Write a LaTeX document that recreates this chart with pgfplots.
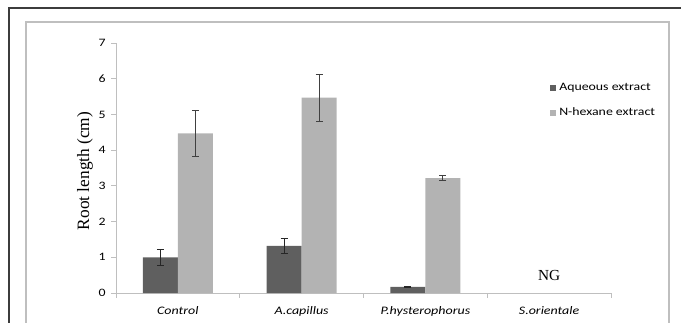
\documentclass[border=0pt]{standalone}
\usepackage{pgfplots}
\pgfplotsset{compat=1.18}
\usepackage{fontspec}
\newfontfamily\calibri{Carlito}
\newfontfamily\tnr{Liberation Serif}
\definecolor{darkbar}{HTML}{5F5F5F}
\definecolor{lightbar}{HTML}{B3B3B3}
\definecolor{axisgray}{HTML}{BFBFBF}
\definecolor{framedark}{HTML}{3C3C3C}
\begin{document}
\begin{tikzpicture}
\useasboundingbox (0pt,0pt) rectangle (510.75pt,241.5pt);
\clip (0pt,0pt) rectangle (510.75pt,241.5pt);
\draw[line width=1.1pt, framedark] (6.75pt,-10pt) -- (6.75pt,235.5pt) -- (520pt,235.5pt);
\draw[line width=0.8pt, axisgray] (19.5pt,-10pt) -- (19.5pt,225pt) -- (501.75pt,225pt) -- (501.75pt,-10pt);
\begin{axis}[
  at={(87pt,21.75pt)}, anchor=south west, scale only axis,
  width=371.25pt, height=187.5pt,
  xmin=-0.5, xmax=3.5, ymin=0, ymax=7,
  axis x line*=bottom, axis y line*=left,
  axis line style={axisgray, line width=0.6pt, -},
  tick style={axisgray, line width=0.6pt},
  tick align=outside, major tick length=3.5pt,
  ytick={0,...,7},
  xtick={-0.5,0.5,1.5,2.5,3.5}, xticklabels={},
  extra x ticks={0,1,2,3},
  extra x tick labels={Control,A.capillus,P.hysterophorus,S.orientale},
  extra x tick style={major tick length=0pt, tick style={draw=none},
     xticklabel style={font=\calibri\itshape\fontsize{8.6}{10}\selectfont, yshift=-6.5pt}},
  ticklabel style={font=\calibri\fontsize{8.5}{10}\selectfont, xscale=1.22},
  /pgf/number format/assume math mode=true,
  ybar, bar width=0.283,
  enlargelimits=false,
  clip=false,
  legend style={draw=none, fill=none, at={(0.869,0.862)}, anchor=north west,
     font=\calibri\fontsize{8.5}{10}\selectfont, row sep=7.6pt,
     nodes={xscale=1.22}},
  legend cell align=left,
  legend image code/.code={\fill[#1] (0pt,-2.1pt) rectangle (4.2pt,2.1pt);},
]
\addplot[fill=darkbar, draw=none, bar shift=-0.1415,
  error bars/.cd, y dir=both, y explicit,
  error bar style={black!85, line width=0.6pt},
  error mark options={rotate=90, black!85, mark size=2.6pt, line width=0.6pt}]
  coordinates {(0,1.00) +- (0,0.22) (1,1.32) +- (0,0.21) (2,0.17) +- (0,0.01)};
\addlegendentry{Aqueous extract}
\addplot[fill=lightbar, draw=none, bar shift=0.1415,
  error bars/.cd, y dir=both, y explicit,
  error bar style={black!75, line width=0.6pt},
  error mark options={rotate=90, black!75, mark size=2.6pt, line width=0.6pt}]
  coordinates {(0,4.47) +- (0,0.65) (1,5.47) +- (0,0.66) (2,3.22) +- (0,0.08)};
\addlegendentry{N-hexane extract}
\node[font=\tnr\fontsize{11.5}{12}\selectfont] at (axis cs:3,0.48) {NG};
\end{axis}
\node[rotate=90, font=\tnr\fontsize{13}{14}\selectfont] at (63.75pt,113.25pt) {Root length (cm)};
\end{tikzpicture}
\end{document}
